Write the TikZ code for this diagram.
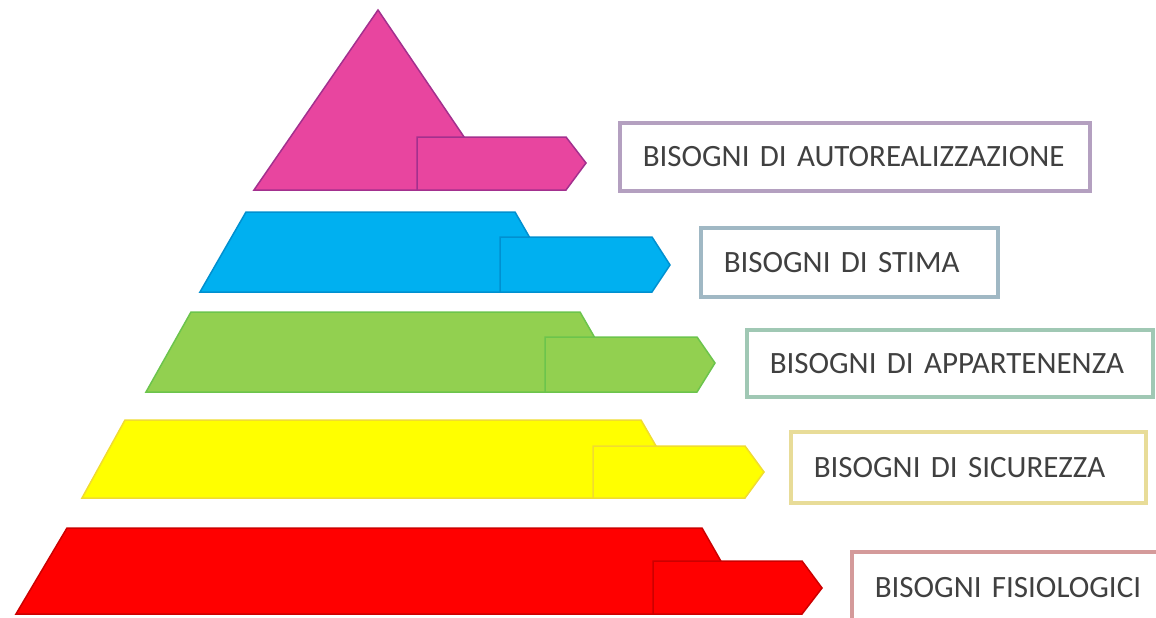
\documentclass[tikz,border=0pt]{standalone}
\usepackage{fontspec}
\setmainfont{Carlito}
\usetikzlibrary{positioning}

\definecolor{autoFill}{HTML}{E8459F}
\definecolor{autoLine}{HTML}{A3308E}
\definecolor{autoBox}{HTML}{B4A0C0}
\definecolor{stimaFill}{HTML}{00B0F0}
\definecolor{stimaLine}{HTML}{0090D0}
\definecolor{stimaBox}{HTML}{A0B8C4}
\definecolor{appFill}{HTML}{92D050}
\definecolor{appLine}{HTML}{6CC44C}
\definecolor{appBox}{HTML}{A0C8B4}
\definecolor{sicFill}{HTML}{FFFF00}
\definecolor{sicLine}{HTML}{F0DC30}
\definecolor{sicBox}{HTML}{E8DC98}
\definecolor{fisFill}{HTML}{FF0000}
\definecolor{fisLine}{HTML}{CC0000}
\definecolor{fisBox}{HTML}{D49A9A}
\definecolor{needText}{HTML}{404040}

\begin{document}
\begin{tikzpicture}[x=1pt,y=-1pt,
        band/.style={line width=1.5pt, line join=miter},
        needbox/.style={anchor=west, draw, line width=3.5pt, inner xsep=23pt, inner ysep=0pt,
            align=left, text=needText, font=\fontsize{31}{36}\selectfont}]
    \useasboundingbox (0,0) rectangle (1156,618);

    % autorealizzazione
    \draw[band, draw=autoLine, fill=autoFill] (378,10) -- (254,190) -- (500,190) -- cycle;
    \draw[band, draw=autoLine, fill=autoFill] (417,137) -- (566,137) -- (586,163) -- (566,190) -- (417,190) -- cycle;
    \node[needbox, draw=autoBox, text width=424pt, minimum height=68pt] (auto) at (618,157) {BISOGNI DI AUTOREALIZZAZIONE};

    % stima
    \draw[band, draw=stimaLine, fill=stimaFill] (246,212) -- (515,212) -- (561,292) -- (200,292) -- cycle;
    \draw[band, draw=stimaLine, fill=stimaFill] (500,237) -- (652,237) -- (670,265) -- (652,292) -- (500,292) -- cycle;
    \node[needbox, draw=stimaBox, text width=251pt, minimum height=69pt] (stima) at (699,262.5) {BISOGNI DI STIMA};

    % appartenenza
    \draw[band, draw=appLine, fill=appFill] (191,312) -- (580,312) -- (626,392) -- (146,392) -- cycle;
    \draw[band, draw=appLine, fill=appFill] (545,337) -- (697,337) -- (715,363) -- (697,392) -- (545,392) -- cycle;
    \node[needbox, draw=appBox, text width=360pt, minimum height=67pt] (app) at (745,363.5) {BISOGNI DI APPARTENENZA};

    % sicurezza
    \draw[band, draw=sicLine, fill=sicFill] (125,420) -- (641,420) -- (686,498) -- (82,498) -- cycle;
    \draw[band, draw=sicLine, fill=sicFill] (593,446) -- (745,446) -- (764,472) -- (745,498) -- (593,498) -- cycle;
    \node[needbox, draw=sicBox, text width=309pt, minimum height=71pt] (sic) at (789,467.5) {BISOGNI DI SICUREZZA};

    % fisiologici
    \draw[band, draw=fisLine, fill=fisFill] (67,528) -- (702,528) -- (751,614) -- (16,614) -- cycle;
    \draw[band, draw=fisLine, fill=fisFill] (653,561) -- (802,561) -- (822,588) -- (802,614) -- (653,614) -- cycle;
    \node[needbox, draw=fisBox, text width=304pt, minimum height=72pt] (fis) at (850,588) {BISOGNI FISIOLOGICI};
\end{tikzpicture}
\end{document}
